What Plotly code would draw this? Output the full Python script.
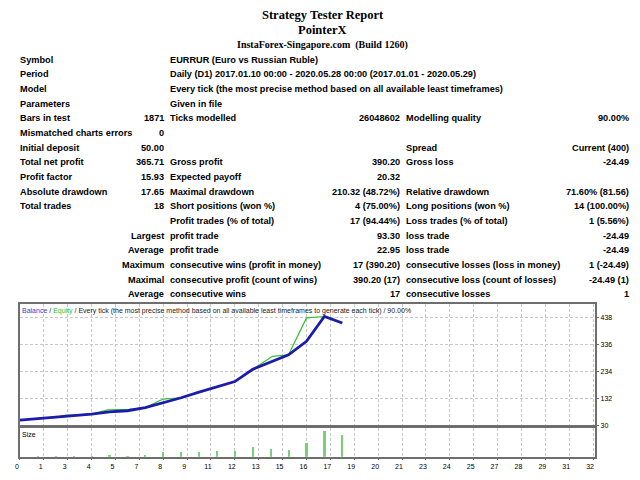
import plotly.graph_objects as go

# the page body keeps an 8px margin, so the figure is 8px smaller and shifted
OFF = 8
W, H = 640 - OFF, 480 - OFF

# header lines of the report
title_lines = ["Strategy Tester Report", "PointerX", "InstaForex-Singapore.com&nbsp;&nbsp;(Build 1260)"]

# report table, one list per column (row by row)
col_a = ["Symbol", "Period", "Model", "Parameters", "Bars in test", "Mismatched charts errors",
         "Initial deposit", "Total net profit", "Profit factor", "Absolute drawdown", "Total trades",
         "", "", "", "", "", ""]
col_b = ["", "", "", "", "1871", "0", "50.00", "365.71", "15.93", "17.65", "18", "",
         "Largest", "Average", "Maximum", "Maximal", "Average"]
col_c = ["EURRUR (Euro vs Russian Ruble)",
         "Daily (D1) 2017.01.10 00:00 - 2020.05.28 00:00 (2017.01.01 - 2020.05.29)",
         "Every tick (the most precise method based on all available least timeframes)",
         "Given in file", "Ticks modelled", "", "", "Gross profit", "Expected payoff",
         "Maximal drawdown", "Short positions (won %)", "Profit trades (% of total)",
         "profit trade", "profit trade", "consecutive wins (profit in money)",
         "consecutive profit (count of wins)", "consecutive wins"]
col_d = ["", "", "", "", "26048602", "", "", "390.20", "20.32", "210.32 (48.72%)", "4 (75.00%)",
         "17 (94.44%)", "93.30", "22.95", "17 (390.20)", "390.20 (17)", "17"]
col_e = ["", "", "", "", "Modelling quality", "", "Spread", "Gross loss", "", "Relative drawdown",
         "Long positions (won %)", "Loss trades (% of total)", "loss trade", "loss trade",
         "consecutive losses (loss in money)", "consecutive loss (count of losses)",
         "consecutive losses"]
col_f = ["", "", "", "", "90.00%", "", "Current (400)", "-24.49", "", "71.60% (81.56)",
         "14 (100.00%)", "1 (5.56%)", "-24.49", "-24.49", "1 (-24.49)", "-24.49 (1)", "1"]

# chart data (x = trade number)
trade_no = list(range(19))
balance = [50, 56, 60, 66, 72, 81, 85, 97, 115, 134, 155, 175, 195, 241, 268, 296, 346.9, 440.2, 415.71]
equity_x = [0, 1, 2, 2.5, 3.4, 4, 4.9, 6.1, 7, 8, 9, 10, 11, 12, 13, 14.1, 15, 16, 17, 18]
equity = [50, 56, 60, 68, 70, 72, 88, 90, 97, 129, 134, 155, 175, 195, 241, 290, 296, 435, 440.2, 415.71]
size_x = list(range(1, 19))
size = [0.01, 0.01, 0.01, 0.01, 0.03, 0.01, 0.03, 0.06, 0.06, 0.06, 0.07, 0.07, 0.11, 0.09, 0.08,
        0.15, 0.27, 0.23]

y_ticks = [30, 132, 234, 336, 438]
x_ticktext = ["0", "1", "3", "4", "5", "7", "8", "9", "11", "12", "13", "15", "16", "17", "19",
              "20", "21", "23", "24", "25", "27", "28", "29", "31", "32"]
x_tickvals = [i * 4 / 3 for i in range(len(x_ticktext))]

legend_text = ('<span style="color:#3c3ccc">Balance</span> / '
               '<span style="color:#30c030">Equity</span> / Every tick (the most precise method '
               'based on all available least timeframes to generate each tick) / 90.00%')


def px(x):
    return (x - OFF) / W


def py(y):
    return 1 - (y - OFF) / H


TABLE_FONT = dict(family="Liberation Sans, Arial, sans-serif", size=9.2, color="black", weight="bold")
SERIF = "Liberation Serif, Times New Roman, serif"
SMALL = dict(family="Liberation Sans, Arial, sans-serif", size=7, color="black")

fig = go.Figure()

fig.add_trace(go.Scatter(x=equity_x, y=equity, mode="lines",
                         line=dict(color="#30c030", width=1.2), xaxis="x", yaxis="y"))
fig.add_trace(go.Scatter(x=trade_no, y=balance, mode="lines",
                         line=dict(color="#1c1cac", width=2.8), xaxis="x", yaxis="y"))
fig.add_trace(go.Bar(x=size_x, y=size, width=0.12, marker=dict(color="#78d078", line_width=0),
                     xaxis="x2", yaxis="y2"))

ann = []
# header
for txt, yy, sz in zip(title_lines, [15, 30.5, 45.5], [12.5, 12.5, 10]):
    ann.append(dict(text=txt, x=px(320), y=py(yy), xref="paper", yref="paper",
                    xanchor="center", yanchor="middle", showarrow=False,
                    font=dict(family=SERIF, size=sz, color="black", weight="bold")))

# table
col_pos = [(13, "left"), (162, "right"), (164, "left"), (400, "right"), (402, "left"), (631, "right")]
cols = [col_a, col_b, col_c, col_d, col_e, col_f]
for (cx, anchor), col in zip(col_pos, cols):
    for i, txt in enumerate(col):
        if not txt:
            continue
        ann.append(dict(text=txt, x=px(cx), y=py(60 + 14.75 * i), xref="paper", yref="paper",
                        xanchor=anchor, yanchor="middle", showarrow=False, font=TABLE_FONT))

# chart captions
ann.append(dict(text=legend_text, x=px(15), y=py(313), xref="paper", yref="paper",
                xanchor="left", yanchor="middle", showarrow=False,
                font=dict(SMALL, color="#222222")))
ann.append(dict(text="Size", x=px(15), y=py(437), xref="paper", yref="paper",
                xanchor="left", yanchor="middle", showarrow=False, font=SMALL))

grid = dict(showgrid=True, gridcolor="#c8c8c8", griddash="3px,2px", gridwidth=1,
            showline=True, mirror=True, linecolor="#6e6e6e", linewidth=1.5, zeroline=False)

fig.update_layout(
    width=W, height=H,
    margin=dict(l=0, r=0, t=0, b=0),
    paper_bgcolor="white", plot_bgcolor="white",
    showlegend=False, bargap=0,
    annotations=ann,
    xaxis=dict(domain=[px(15), px(595)], range=[0, 32.13], tickvals=x_tickvals,
               showticklabels=False, anchor="y", **grid),
    xaxis2=dict(domain=[px(15), px(595)], range=[0, 32.13], tickvals=x_tickvals,
                ticktext=x_ticktext, tickfont=SMALL, ticklabelshift=-3,
                ticks="outside", ticklen=2, tickcolor="#6e6e6e", anchor="y2", **grid),
    yaxis=dict(domain=[py(428), py(306)], range=[30, 487], tickvals=y_ticks, side="right",
               tickfont=SMALL, ticks="outside", ticklen=2, tickcolor="#6e6e6e",
               anchor="x", **grid),
    yaxis2=dict(domain=[py(459.5), py(430.5)], range=[0.01, 0.30], showticklabels=False,
                showgrid=False, showline=True, mirror=True, linecolor="#6e6e6e",
                linewidth=1.5, zeroline=False, anchor="x2"),
)

fig.write_html("out.html")
